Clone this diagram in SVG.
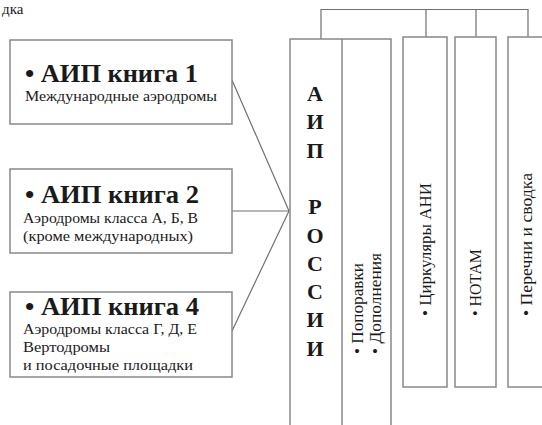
<svg xmlns="http://www.w3.org/2000/svg" width="542" height="425" viewBox="0 0 542 425">
<style>
.box{fill:#fff;stroke:#888;stroke-width:1.5}
.conn{stroke:#707070;stroke-width:1.2;fill:none}
.t{font-family:"Liberation Serif","DejaVu Serif",serif;fill:#1a1a1a}
.h{font-weight:bold;font-size:25px}
.s{font-size:15.5px}
.v{font-size:16px}
.big{font-weight:bold;font-size:22px;text-anchor:middle}
</style>
<rect width="542" height="425" fill="#fff"/>
<text class="t" x="2" y="14" font-size="15">дка</text>
<g id="connectors">
<path class="conn" d="M321,39 V9.5 H528 V37 M426,9.5 V37 M476,9.5 V37"/>
<path class="conn" d="M232,80 L289,211 M232,211 H289 M232,331 L289,211"/>
</g>
<g id="book1">
<rect class="box" x="10" y="40" width="222" height="84"/>
<text class="t h" x="25" y="82" textLength="173" lengthAdjust="spacingAndGlyphs">• АИП книга 1</text>
<text class="t s" x="25" y="101" textLength="192" lengthAdjust="spacingAndGlyphs">Международные аэродромы</text>
</g>
<g id="book2">
<rect class="box" x="10" y="169" width="222" height="84"/>
<text class="t h" x="25" y="203" textLength="174" lengthAdjust="spacingAndGlyphs">• АИП книга 2</text>
<text class="t s" x="23" y="223" textLength="175" lengthAdjust="spacingAndGlyphs">Аэродромы класса А, Б, В</text>
<text class="t s" x="23" y="241" textLength="170" lengthAdjust="spacingAndGlyphs">(кроме международных)</text>
</g>
<g id="book4">
<rect class="box" x="10" y="292" width="222" height="85"/>
<text class="t h" x="25" y="315" textLength="174" lengthAdjust="spacingAndGlyphs">• АИП книга 4</text>
<text class="t s" x="23" y="334" textLength="174" lengthAdjust="spacingAndGlyphs">Аэродромы класса Г, Д, Е</text>
<text class="t s" x="23" y="352" textLength="87" lengthAdjust="spacingAndGlyphs">Вертодромы</text>
<text class="t s" x="23" y="370" textLength="170" lengthAdjust="spacingAndGlyphs">и посадочные площадки</text>
</g>
<g id="aip">
<rect class="box" x="290" y="39" width="101" height="400"/>
<line class="box" x1="342" y1="39" x2="342" y2="430"/>
<text class="t big" x="315" y="101">А</text>
<text class="t big" x="315" y="129.3">И</text>
<text class="t big" x="315" y="157.6">П</text>
<text class="t big" x="315" y="214.2">Р</text>
<text class="t big" x="315" y="242.5">О</text>
<text class="t big" x="315" y="270.8">С</text>
<text class="t big" x="315" y="299.1">С</text>
<text class="t big" x="315" y="327.4">И</text>
<text class="t big" x="315" y="355.7">И</text>
<text class="t v" transform="translate(363,354) rotate(-90)" textLength="91" lengthAdjust="spacingAndGlyphs">• Попоравки</text>
<text class="t v" transform="translate(381,354) rotate(-90)" textLength="101" lengthAdjust="spacingAndGlyphs">• Дополнения</text>
</g>
<g id="circulars">
<rect class="box" x="403" y="37" width="44" height="350"/>
<text class="t v" transform="translate(431,316) rotate(-90)" textLength="133" lengthAdjust="spacingAndGlyphs">• Циркуляры АНИ</text>
</g>
<g id="notam">
<rect class="box" x="455" y="37" width="41" height="350"/>
<text class="t v" transform="translate(481,316) rotate(-90)" textLength="67" lengthAdjust="spacingAndGlyphs">• НОТАМ</text>
</g>
<g id="lists">
<rect class="box" x="508" y="37" width="50" height="350"/>
<text class="t v" transform="translate(532,316) rotate(-90)" textLength="143" lengthAdjust="spacingAndGlyphs">• Перечни и сводка</text>
</g>
</svg>
